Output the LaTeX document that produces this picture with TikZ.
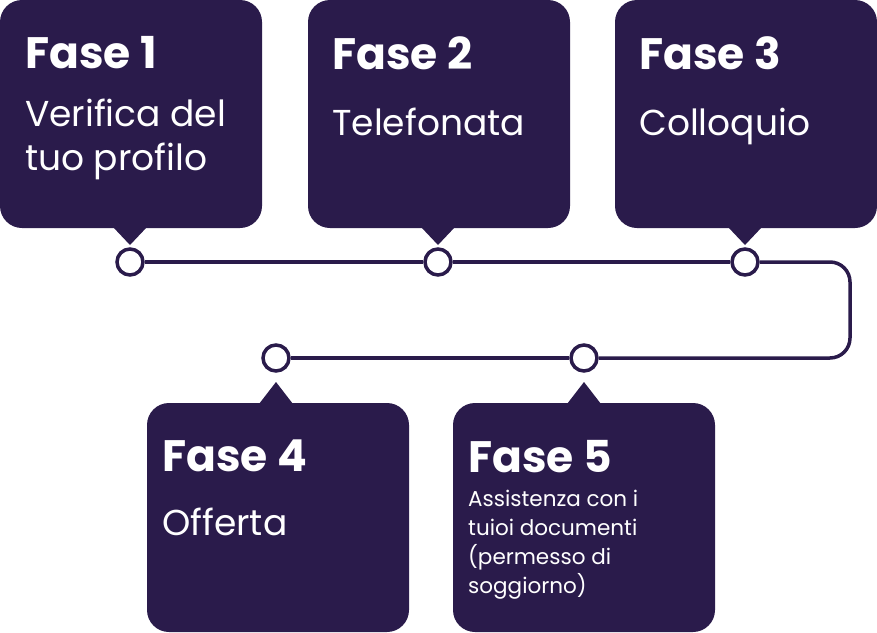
\documentclass[tikz,border=0pt]{standalone}
\usepackage{fontspec}
\setmainfont{Poppins}
\definecolor{dp}{HTML}{2A1B4B}
\begin{document}
\begin{tikzpicture}[x=1pt,y=-1pt,
  box/.style={fill=dp,rounded corners=22pt},
  pt/.style={circle,draw=dp,fill=white,line width=3.5pt,minimum size=26pt,inner sep=0},
  ttl/.style={anchor=north west,text=white,font=\fontsize{44}{50}\selectfont\bfseries,inner sep=0},
  bdy/.style={anchor=north west,text=white,font=\fontsize{36}{44}\selectfont,inner sep=0,align=left},
  sm/.style={anchor=north west,text=white,font=\fontsize{21.5}{29}\selectfont,inner sep=0,align=left}]
\useasboundingbox (0,0) rectangle (877,632);
\foreach \x/\c in {0/130,308/438,615/745}{
  \fill[box] (\x,0) rectangle (\x+262,228);
  \fill[dp] (\c-17,227) -- (\c+17,227) -- (\c,245) -- cycle;
}
\foreach \x/\c in {147/276,453/584}{
  \fill[box] (\x,403) rectangle (\x+262,632);
  \fill[dp] (\c-17,404) -- (\c+17,404) -- (\c,382) -- cycle;
}
\node[pt] (p1) at (130,262) {};
\node[pt] (p2) at (438,262) {};
\node[pt] (p3) at (745,262) {};
\node[pt] (p5) at (584,358) {};
\node[pt] (p4) at (276,358) {};
\coordinate (c1) at (850,262);
\coordinate (c2) at (850,358);
\draw[dp,line width=3.5pt] (p1)--(p2);
\draw[dp,line width=3.5pt] (p2)--(p3);
\draw[dp,line width=3.5pt,rounded corners=20pt] (p3)--(c1)--(c2)--(p5);
\draw[dp,line width=3.5pt] (p5)--(p4);
\node[ttl] (t1) at (25,36) {Fase 1};
\node[bdy] (b1) at (25,99) {Verifica del\\tuo profilo};
\node[ttl] (t2) at (332,36) {Fase 2};
\node[bdy] (b2) at (332,108) {Telefonata};
\node[ttl] (t3) at (639,36) {Fase 3};
\node[bdy] (b3) at (639,108) {Colloquio};
\node[ttl] (t4) at (162,440) {Fase 4};
\node[bdy] (b4) at (162,508) {Offerta};
\node[ttl] (t5) at (468,440) {Fase 5};
\node[sm] (b5) at (468,490) {Assistenza con i\\tuioi documenti\\(permesso di\\soggiorno)};
\end{tikzpicture}
\end{document}
